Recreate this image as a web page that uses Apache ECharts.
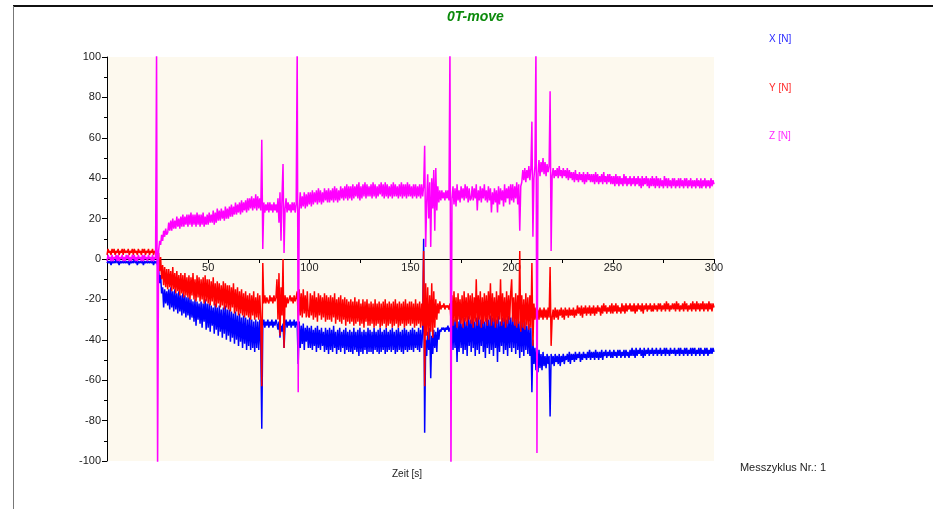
<!DOCTYPE html>
<html><head><meta charset="utf-8">
<script src="https://cdn.jsdelivr.net/npm/echarts@6/dist/echarts.min.js"></script>
<style>html,body{margin:0;padding:0;background:#fff}#c{width:933px;height:509px}</style>
</head><body><div id="c"></div>
<script>
const TITLE = '0T-move';
const SERIES_NAMES = ['X [N]', 'Y [N]', 'Z [N]'];
const SAMPLE_STEP = 0.5; // seconds between samples, starting at t = 0
const X_TICK_LABELS = [50, 100, 150, 200, 250, 300];

// X [N] (blue), one row = 10 s
const X_N = [
-2,-1,-2,-1,-3,-1,-2,-1,-2,0,-2,-1,-3,-1,-2,-1,-2,-1,-2,-1,
-2,-1,-3,-1,-2,-1,-2,0,-2,-1,-3,-1,-2,-1,-2,-1,-3,-1,-2,-1,
-2,-1,-2,-1,-2,-1,-3,-1,-2,-1,-1,-5,-12,-8,-17,-14,-24,-15,-22,-16,
-23,-15,-25,-14,-24,-16,-26,-15,-25,-17,-27,-16,-26,-18,-28,-17,-27,-18,-29,-19,
-28,-19,-30,-20,-29,-21,-31,-20,-33,-21,-30,-22,-32,-21,-34,-22,-31,-20,-35,-22,
-34,-22,-36,-23,-33,-24,-37,-22,-35,-24,-38,-23,-36,-25,-39,-24,-37,-23,-40,-25,
-38,-25,-41,-26,-39,-27,-42,-26,-40,-28,-43,-27,-41,-29,-44,-28,-42,-29,-45,-30,
-43,-29,-45,-30,-44,-31,-46,-30,-44,-31,-45,-30,-43,-84,-33,-30,-34,-31,-33,-30,
-34,-31,-33,-30,-34,-31,-33,-30,-32,-35,-31,-39,-33,-36,-32,-44,-33,-30,-34,-31,
-33,-30,-34,-31,-33,-30,-34,-31,-32,-52,-31,-44,-33,-42,-32,-45,-34,-41,-33,-44,
-34,-44,-33,-45,-35,-43,-34,-46,-33,-44,-35,-45,-34,-43,-36,-46,-34,-45,-35,-47,
-34,-45,-35,-46,-33,-44,-36,-47,-35,-45,-34,-46,-36,-44,-35,-47,-34,-45,-36,-46,
-35,-46,-36,-47,-34,-45,-36,-46,-35,-48,-34,-46,-36,-47,-35,-45,-36,-47,-34,-46,
-35,-46,-36,-47,-34,-45,-36,-46,-35,-47,-34,-46,-36,-45,-35,-47,-34,-46,-36,-45,
-35,-46,-34,-45,-36,-47,-35,-46,-34,-45,-36,-46,-35,-47,-34,-45,-35,-46,-36,-45,
-35,-45,-34,-46,-35,-44,-36,-45,-34,-46,-35,-44,-36,10,-86,-40,-48,-36,-45,-34,
-59,-38,-47,-35,-44,-36,-46,-34,-40,-35,-36,-34,-35,-34,-36,-34,-35,-33,-36,-34,
-36,-28,-45,-30,-44,-29,-51,-31,-46,-28,-44,-32,-47,-29,-45,-31,-48,-28,-43,-30,
-46,-27,-44,-31,-48,-29,-45,-28,-47,-30,-43,-28,-46,-31,-49,-29,-44,-30,-47,-28,
-45,-29,-48,-27,-44,-30,-51,-28,-46,-31,-43,-29,-47,-27,-45,-30,-48,-28,-44,-29,
-46,-28,-44,-30,-47,-27,-45,-31,-49,-29,-46,-30,-48,-31,-45,-33,-47,-32,-48,-34,
-66,-40,-52,-44,-55,-43,-56,-45,-54,-47,-55,-46,-53,-48,-54,-47,-52,-48,-78,-47,
-52,-48,-53,-47,-51,-48,-52,-47,-53,-48,-51,-47,-52,-48,-50,-47,-51,-46,-52,-47,
-50,-47,-51,-46,-50,-47,-49,-46,-51,-47,-50,-46,-49,-47,-50,-46,-49,-45,-50,-46,
-49,-46,-50,-45,-49,-46,-50,-46,-49,-45,-50,-46,-48,-45,-49,-46,-48,-45,-49,-46,
-49,-45,-48,-46,-49,-45,-48,-45,-49,-46,-48,-45,-49,-45,-48,-46,-49,-45,-48,-44,
-48,-45,-49,-44,-48,-45,-47,-44,-48,-45,-49,-44,-48,-45,-47,-44,-48,-45,-47,-44,
-48,-45,-47,-44,-48,-45,-47,-44,-48,-45,-47,-44,-48,-44,-47,-45,-48,-44,-47,-45,
-47,-44,-48,-45,-47,-44,-48,-44,-47,-45,-48,-44,-47,-44,-48,-45,-47,-44,-48,-44,
-47,-44,-48,-45,-47,-44,-48,-44,-47,-45,-48,-44,-47,-44,-48,-45,-47,-44,-47,-44,
-46];

// Y [N] (red)
const Y_N = [
2,5,3,4,2,5,3,5,2,4,3,5,2,4,3,5,2,5,3,4,
3,5,2,4,3,5,2,5,3,4,2,5,3,4,2,5,3,5,2,4,
3,5,2,4,3,5,2,4,3,4,1,3,-6,1,-10,-3,-13,-4,-14,-5,
-15,-5,-14,-6,-16,-4,-15,-7,-17,-6,-16,-8,-18,-7,-17,-8,-19,-7,-18,-9,
-19,-8,-20,-9,-18,-7,-20,-10,-21,-8,-19,-9,-21,-10,-20,-9,-22,-8,-21,-10,
-22,-10,-23,-11,-21,-9,-23,-12,-24,-11,-22,-12,-24,-13,-23,-11,-25,-12,-24,-13,
-25,-13,-26,-14,-24,-12,-27,-15,-26,-14,-28,-16,-27,-15,-28,-17,-29,-16,-28,-18,
-29,-17,-30,-18,-28,-16,-30,-19,-29,-17,-30,-18,-29,-63,-2,-22,-18,-22,-19,-21,
-22,-18,-21,-19,-22,-18,-21,-19,-10,-30,-7,-38,-14,-28,0,-44,-18,-24,-19,-22,
-22,-18,-21,-19,-22,-18,-21,-19,-16,-30,-15,-28,-17,-29,-15,-27,-18,-29,-16,-28,
-29,-17,-28,-18,-30,-16,-29,-19,-31,-17,-28,-18,-30,-19,-29,-17,-31,-18,-30,-19,
-30,-18,-31,-19,-29,-17,-32,-20,-30,-19,-31,-18,-32,-20,-30,-19,-33,-20,-31,-21,
-32,-20,-31,-21,-33,-19,-32,-21,-31,-20,-33,-22,-32,-20,-34,-21,-31,-20,-33,-22,
-33,-21,-32,-22,-34,-20,-33,-22,-32,-21,-34,-22,-33,-21,-32,-20,-34,-22,-33,-21,
-32,-22,-34,-21,-33,-20,-32,-22,-34,-21,-33,-22,-32,-21,-34,-20,-33,-22,-32,-21,
-33,-21,-32,-22,-34,-20,-33,-22,-32,-21,-34,-22,-33,4,-63,-12,-38,-14,-40,-18,
-36,-12,-39,-16,-34,-20,-30,-22,-27,-21,-25,-23,-24,-22,-25,-23,-24,-23,-25,-22,
-30,-18,-33,-16,-31,-19,-34,-17,-30,-20,-32,-18,-34,-16,-31,-19,-33,-17,-30,-18,
-32,-17,-34,-19,-31,-10,-33,-18,-30,-16,-34,-19,-32,-17,-31,-18,-33,-16,-30,-12,
-33,-17,-31,-19,-34,-16,-32,-18,-30,-10,-33,-17,-31,-19,-34,-16,-32,-18,-30,-17,
-10,-31,-19,-33,-17,-34,-18,-32,4,-36,-18,-34,-20,-35,-17,-33,-19,-35,-18,-34,
-2,-43,-22,-30,-24,-31,-25,-30,-24,-29,-25,-30,-24,-29,-25,-30,-24,-29,-4,-43,
-29,-25,-30,-24,-29,-25,-30,-25,-28,-24,-29,-25,-30,-24,-28,-25,-29,-24,-28,-25,
-28,-24,-29,-25,-28,-23,-27,-24,-28,-23,-29,-24,-27,-23,-28,-24,-27,-23,-28,-24,
-27,-23,-28,-24,-27,-23,-26,-24,-28,-23,-27,-22,-26,-23,-27,-24,-26,-23,-27,-22,
-27,-23,-26,-22,-27,-23,-26,-24,-27,-22,-26,-23,-27,-22,-26,-23,-25,-22,-26,-23,
-26,-22,-27,-23,-26,-22,-25,-23,-26,-22,-27,-23,-25,-22,-26,-23,-25,-22,-26,-23,
-26,-22,-25,-23,-26,-22,-25,-22,-26,-23,-25,-22,-26,-21,-25,-22,-26,-23,-25,-22,
-25,-22,-26,-21,-25,-22,-26,-23,-25,-22,-26,-21,-25,-22,-26,-23,-25,-22,-26,-21,
-25,-22,-26,-21,-25,-22,-26,-22,-25,-21,-26,-22,-25,-22,-26,-21,-25,-22,-26,-22,
-24];

// Z [N] (magenta)
const Z_N = [
-1,2,0,1,-1,2,-1,1,0,2,-1,2,-1,1,0,2,-1,1,-1,2,
0,2,-1,1,-1,2,0,2,-1,1,-1,2,0,1,-1,2,-1,2,0,1,
-1,2,0,1,-1,2,-1,1,0,105,-105,4,9,7,12,9,14,11,15,12,
13,18,14,19,14,20,15,19,15,21,16,20,15,21,16,22,16,21,17,22,
16,22,17,23,16,22,17,22,16,23,17,22,16,22,17,23,16,21,17,22,
17,23,18,22,18,24,17,23,18,25,19,24,19,25,20,24,19,26,20,25,
20,26,21,27,21,26,22,28,22,27,23,28,22,29,23,28,24,29,23,30,
24,30,25,31,24,30,25,32,24,31,25,30,24,59,5,28,23,27,24,28,
23,28,24,27,23,28,24,27,23,30,18,33,9,31,47,3,25,30,23,28,
24,27,23,28,24,28,23,27,105,-66,24,33,25,31,26,33,25,32,26,33,
27,33,26,34,27,33,28,34,27,35,28,34,27,33,28,35,29,34,28,35,
28,34,29,35,28,36,29,35,28,34,29,36,30,35,29,36,30,37,29,36,
30,36,29,37,30,36,31,37,30,38,29,36,30,37,31,38,30,37,31,36,
31,37,30,38,31,37,30,36,31,37,32,38,31,37,30,38,31,37,30,36,
31,37,30,38,31,37,31,36,30,37,31,38,30,37,31,37,30,38,31,37,
31,36,30,37,31,37,30,36,31,37,30,37,31,36,56,6,28,42,20,38,
6,40,25,44,14,45,24,36,28,34,29,34,30,33,29,34,30,34,29,105,
-105,30,36,27,35,26,37,29,34,28,36,30,35,29,37,30,36,28,35,29,
30,36,29,35,30,37,24,34,29,36,28,35,30,37,29,34,28,36,29,35,
23,33,27,35,28,34,23,36,27,35,29,34,26,37,28,35,30,36,27,37,
29,37,28,36,30,38,27,37,14,36,38,44,39,45,38,44,40,46,39,45,
68,11,40,46,105,-96,42,49,41,48,43,50,42,48,41,47,43,46,83,4,
41,45,40,44,41,45,40,46,41,44,40,45,41,44,40,45,39,44,40,43,
39,43,38,44,39,42,38,43,39,42,38,43,37,42,38,43,39,42,38,42,
38,42,37,43,38,42,37,41,38,42,37,43,38,41,37,42,38,42,37,41,
37,41,36,42,37,41,36,41,37,40,36,42,37,41,36,40,37,41,36,40,
37,41,36,40,37,41,36,40,35,41,36,40,37,41,36,40,35,40,36,41,
36,40,35,41,36,40,35,40,36,39,35,41,36,40,35,40,36,39,35,40,
36,40,35,39,36,40,35,40,36,39,35,40,36,40,35,39,36,40,35,39,
36,39,35,40,36,39,35,40,35,39,36,40,35,39,36,39,35,40,36,39,
37];

const SERIES_COLORS = ['#0000ff', '#ff0000', '#ff00ff'];
const LEGEND_COLORS = ['#2a2aff', '#ff2a2a', '#ff2aff'];
const FONT = '"Liberation Sans", Arial, sans-serif';

function toPairs(arr) { return arr.map((v, i) => [i * SAMPLE_STEP, v]); }
const allValues = [X_N, Y_N, Z_N];

const chart = echarts.init(document.getElementById('c'), null, {renderer: 'canvas'});
chart.setOption({
  animation: false,
  backgroundColor: '#ffffff',
  title: {
    text: TITLE, left: 447, top: 10, padding: 0,
    textStyle: {color: '#0b8a0b', fontSize: 14, fontWeight: 'bold', fontStyle: 'italic', fontFamily: FONT}
  },
  legend: {
    orient: 'vertical', left: 764, top: 33, padding: 0,
    itemWidth: 0, itemHeight: 12, itemGap: 36.5 + 1.3, icon: 'none', selectedMode: false,
    textStyle: {fontSize: 10, fontFamily: FONT},
    data: SERIES_NAMES.map((n, i) => ({name: n, textStyle: {color: LEGEND_COLORS[i]}}))
  },
  grid: {left: 107, top: 57, width: 607, height: 404, show: true, backgroundColor: '#fdf9ee', borderWidth: 0},
  xAxis: {
    type: 'value', min: 0, max: 300, interval: 25, position: 'bottom', offset: -202,
    axisLine: {show: true, onZero: false, lineStyle: {color: '#000', width: 1}},
    axisTick: {show: true, length: 4, lineStyle: {color: '#000'}},
    axisLabel: {
      margin: 3, fontSize: 11, color: '#222', fontFamily: FONT,
      formatter: v => X_TICK_LABELS.includes(v) ? String(v) : ''
    },
    splitLine: {show: false}
  },
  yAxis: {
    type: 'value', min: -100, max: 100, interval: 20,
    axisLine: {show: true, onZero: false, lineStyle: {color: '#000', width: 1}},
    axisTick: {show: true, length: 5, lineStyle: {color: '#000'}},
    minorTick: {show: true, splitNumber: 2, length: 3, lineStyle: {color: '#000'}},
    axisLabel: {margin: 6, fontSize: 11, color: '#222', fontFamily: FONT},
    splitLine: {show: false}
  },
  series: SERIES_NAMES.map((n, i) => ({
    name: n, type: 'line', data: toPairs(allValues[i]),
    showSymbol: false, symbol: 'none', sampling: null, clip: true,
    color: SERIES_COLORS[i],
    lineStyle: {color: SERIES_COLORS[i], width: 1.5, join: 'bevel'},
    z: 2 + i
  })),
  graphic: [
    {type: 'line', shape: {x1: 13, y1: 6, x2: 933, y2: 6}, style: {stroke: '#111', lineWidth: 2}},
    {type: 'line', shape: {x1: 13.5, y1: 6, x2: 13.5, y2: 509}, style: {stroke: '#777', lineWidth: 1}},
    {type: 'text', x: 407, y: 474, style: {text: 'Zeit [s]', align: 'center', verticalAlign: 'middle', fontSize: 10, fill: '#222', font: '10px ' + FONT}},
    {type: 'text', x: 783, y: 468, style: {text: 'Messzyklus Nr.: 1', align: 'center', verticalAlign: 'middle', fontSize: 11, fill: '#222', font: '11px ' + FONT}}
  ]
});
</script>
</body></html>
